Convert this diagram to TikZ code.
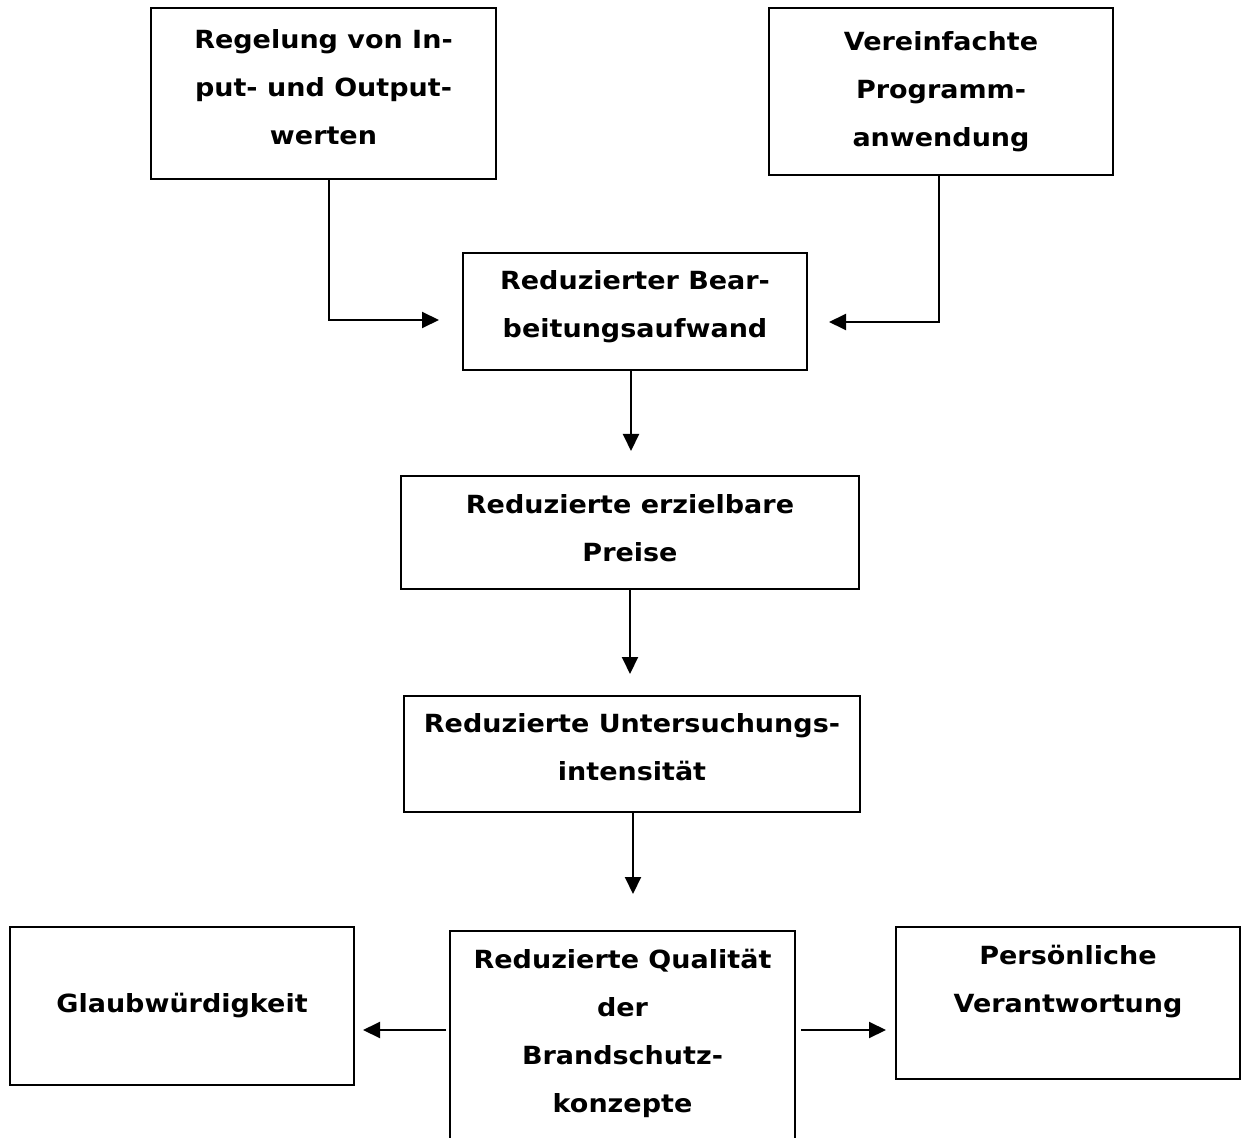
\documentclass[tikz,border=0pt]{standalone}
\usepackage{fontspec}
\setmainfont{DejaVu Sans}[FakeStretch=1.08]
\usetikzlibrary{arrows.meta}
\tikzset{
  box/.style={draw, line width=1pt, align=center, inner sep=0pt,
    font=\bfseries\fontsize{12.5}{24}\selectfont},
  flow/.style={line width=1pt, -{Triangle[length=8.5pt,width=8pt]}},
}
\begin{document}
\begin{tikzpicture}[x=0.5pt,y=-0.5pt]
\useasboundingbox (0,0) rectangle (1241,1138);
% boxes
\node[box,minimum width=172.5pt,minimum height=85.5pt,text depth=6pt] (reg) at (323.5,93.5) {Regelung von In-\\put- und Output-\\werten};
\node[box,minimum width=172pt,minimum height=83.5pt] (ver) at (941,91.5) {Vereinfachte\\Programm-\\anwendung};
\node[box,minimum width=172pt,minimum height=58.5pt,text depth=7.45pt] (bear) at (635,311.5) {Reduzierter Bear-\\beitungsaufwand};
\node[box,minimum width=229pt,minimum height=56.5pt,text depth=4.5pt] (preis) at (630,532.5) {Reduzierte erzielbare\\Preise};
\node[box,minimum width=228pt,minimum height=58pt,text depth=7pt] (unter) at (632,754) {Reduzierte Untersuchungs-\\intensität};
\node[box,minimum width=172pt,minimum height=79pt] (glaub) at (182,1006) {Glaubwürdigkeit};
\node[box,minimum width=172.5pt,minimum height=107pt,text depth=7.45pt] (qual) at (622.5,1038) {Reduzierte Qualität\\der\\Brandschutz-\\konzepte};
\node[box,minimum width=172pt,minimum height=76pt,text depth=24.45pt] (pers) at (1068,1003) {Persönliche\\Verantwortung};
% arrows
\draw[flow] ([xshift=2.75pt]reg.south) |- ([xshift=-11.5pt,yshift=-4.25pt]bear.west);
\draw[flow] ([xshift=-1pt]ver.south) |- ([xshift=10.5pt,yshift=-5.25pt]bear.east);
\draw[flow,shorten >=12pt] ([xshift=-2pt]bear.south) -- ([xshift=-2pt]bear.south |- preis.north);
\draw[flow,shorten >=10.5pt] (preis.south) -- (preis.north |- unter.north);
\draw[flow,shorten >=18pt] ([xshift=0.5pt]unter.south) -- ([xshift=0.5pt]unter.south |- qual.north);
\draw[flow,shorten <=1.5pt,shorten >=4pt] ([yshift=4pt]qual.west) -- ([yshift=4pt]qual.west -| glaub.east);
\draw[flow,shorten <=2.5pt,shorten >=4.5pt] ([yshift=4pt]qual.east) -- ([yshift=4pt]qual.east -| pers.west);
\end{tikzpicture}
\end{document}
